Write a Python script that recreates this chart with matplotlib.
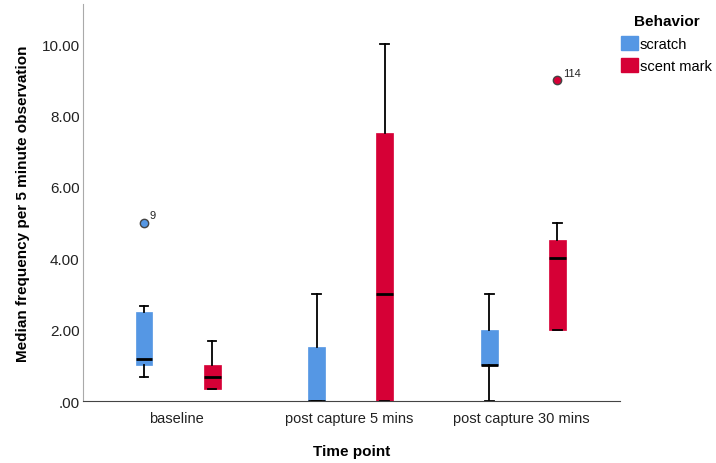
import numpy as np
import matplotlib.pyplot as plt
from matplotlib.patches import Patch

plt.rcParams['font.family'] = ['Liberation Sans', 'DejaVu Sans']

timepoints = ['baseline', 'post capture 5 mins', 'post capture 30 mins']
behaviors = ['scratch', 'scent mark']
colors = ['#5597e4', '#d60036']

# box stats: [whislo, q1, med, q3, whishi]
scratch = [[0.67, 1.0, 1.18, 2.5, 2.66],
           [0.0, 0.0, 0.0, 1.5, 3.0],
           [0.0, 1.0, 1.0, 2.0, 3.0]]
scent = [[0.33, 0.33, 0.67, 1.0, 1.67],
         [0.0, 0.0, 3.0, 7.5, 10.0],
         [2.0, 2.0, 4.0, 4.5, 5.0]]
scratch_out = [[5.0], [], []]
scent_out = [[], [], [9.0]]
scratch_lab = ['9', '', '']
scent_lab = ['', '', '114']

fig = plt.figure(figsize=(7.16, 4.64), dpi=100)
ax = fig.add_axes([0.116, 0.1336, 0.75, 0.855])

pos = np.arange(len(timepoints))
off = 0.197
for k, (data, outs, labs) in enumerate([(scratch, scratch_out, scratch_lab),
                                        (scent, scent_out, scent_lab)]):
    stats = []
    for s, o in zip(data, outs):
        stats.append(dict(whislo=s[0], q1=s[1], med=s[2], q3=s[3], whishi=s[4], fliers=o))
    p = pos + (-off if k == 0 else off) + 0.01
    ax.bxp(stats, positions=p, widths=0.098, patch_artist=True, manage_ticks=False,
           boxprops=dict(facecolor=colors[k], edgecolor=colors[k], linewidth=0.5),
           medianprops=dict(color='black', linewidth=2),
           whiskerprops=dict(color='black', linewidth=1.3),
           capprops=dict(color='black', linewidth=1.3),
           capwidths=0.05,
           flierprops=dict(marker='o', markersize=6, markerfacecolor=colors[k],
                           markeredgecolor='#444444', markeredgewidth=1))
    for x, o, lab in zip(p, outs, labs):
        for v in o:
            ax.annotate(lab, (x, v), xytext=(4, 3), textcoords='offset points',
                        fontsize=8, color='#222222')

ax.set_xlim(-0.54, 2.57)
ax.set_ylim(0, 11.12)
ax.set_yticks([0, 2, 4, 6, 8, 10])
ax.set_yticklabels(['.00', '2.00', '4.00', '6.00', '8.00', '10.00'])
ax.set_xticks(pos)
ax.set_xticklabels(timepoints)
ax.tick_params(length=0, labelsize=10.5, colors='#222222', pad=7)
ax.tick_params(axis='y', pad=2.5, labelsize=11)
for sp in ['top', 'right']:
    ax.spines[sp].set_visible(False)
ax.spines['left'].set_color('#aaaaaa')
ax.spines['bottom'].set_color('#444444')
ax.set_xlabel('Time point', fontsize=11, fontweight='bold', labelpad=14)
ax.set_ylabel('Median frequency per 5 minute observation', fontsize=11,
              fontweight='bold', labelpad=8)

handles = [Patch(facecolor=c, edgecolor=c) for c in colors]
leg = fig.legend(handles, behaviors, title='Behavior', loc='upper left',
                 bbox_to_anchor=(0.868, 0.968), frameon=False, fontsize=10.5,
                 handlelength=1.1, handleheight=1.1, handletextpad=0.15,
                 labelspacing=0.45, borderpad=0, borderaxespad=0,
                 alignment='center')
leg.get_title().set_fontweight('bold')
leg.get_title().set_fontsize(11)
leg._legend_box.sep = 6

fig.savefig('out.png', dpi=100)
